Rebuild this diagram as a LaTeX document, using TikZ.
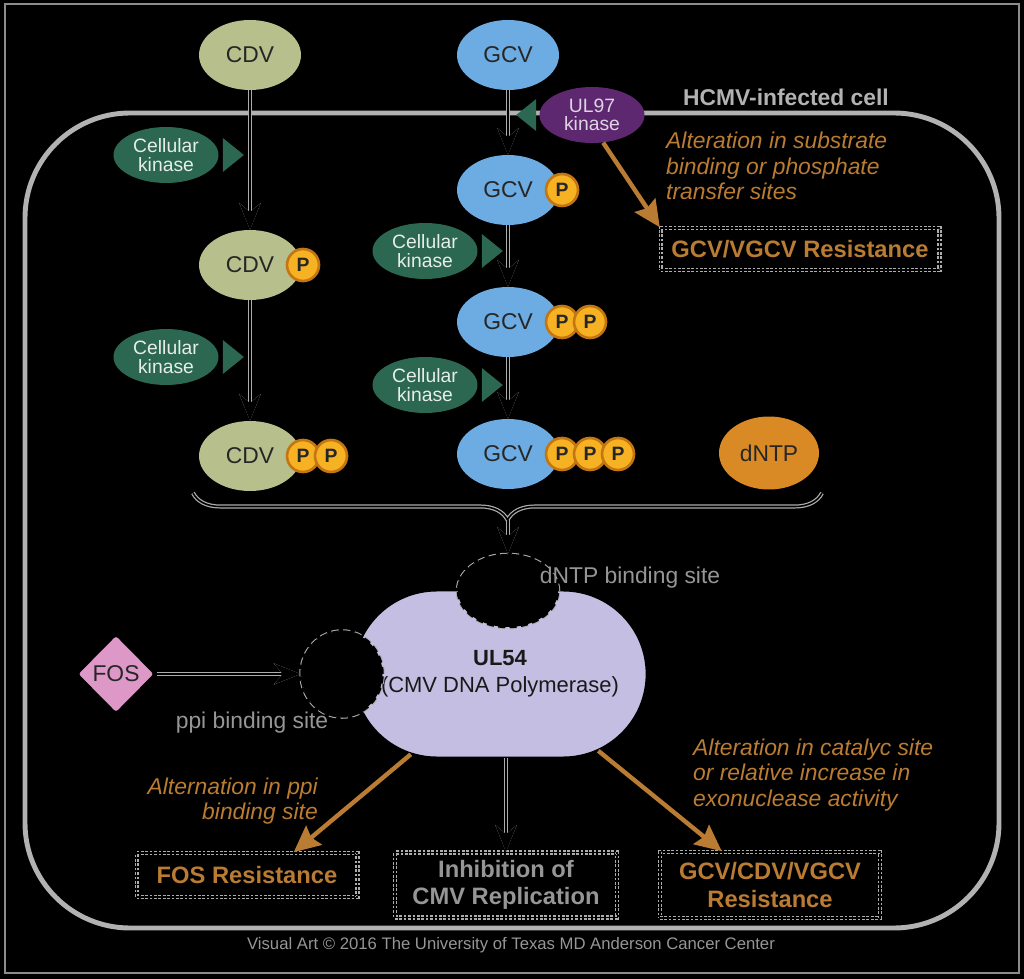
\documentclass[tikz,border=0pt]{standalone}
\usepackage{fontspec}
\setmainfont{Liberation Sans}
\usetikzlibrary{arrows.meta,shapes.geometric,shapes.misc,decorations.pathreplacing}

\definecolor{cdvgreen}{RGB}{183,191,140}
\definecolor{gcvblue}{RGB}{108,172,226}
\definecolor{kingreen}{RGB}{44,103,82}
\definecolor{ulpurple}{RGB}{94,40,112}
\definecolor{pfill}{RGB}{246,178,34}
\definecolor{pring}{RGB}{196,118,18}
\definecolor{ntporange}{RGB}{218,138,36}
\definecolor{fospink}{RGB}{222,152,200}
\definecolor{pollav}{RGB}{196,190,226}
\definecolor{mutorange}{RGB}{186,124,50}
\definecolor{cellgray}{RGB}{178,178,178}
\definecolor{notegray}{RGB}{150,150,150}

\tikzset{
  drug/.style={ellipse, minimum width=2.04cm, minimum height=1.4cm, inner sep=0pt,
    text=black!85, font=\fontsize{13}{15}\selectfont},
  cdv/.style={drug, fill=cdvgreen},
  gcv/.style={drug, fill=gcvblue},
  kinase/.style={ellipse, fill=kingreen, minimum width=2.1cm, minimum height=1.12cm,
    inner sep=0pt, align=center, text=white!88!kingreen, font=\fontsize{11}{10.5}\selectfont},
  phos/.style={circle, fill=pfill, draw=pring, line width=1.5pt, minimum size=0.64cm,
    inner sep=0pt, text=black!85, font=\bfseries\fontsize{11}{12}\selectfont},
  halo/.style={preaction={draw=black!32, line width=2.3pt}, draw=black, line width=0.9pt},
  flow/.style={halo, -{Stealth[length=15pt, width=12pt, inset=5pt]}},
  mutarrow/.style={draw=mutorange, line width=2.5pt, -{Stealth[length=15pt, width=14pt, inset=2pt]}},
  mut/.style={text=mutorange, align=left, font=\itshape\fontsize{13}{14.5}\selectfont},
  site/.style={ellipse, fill=black, preaction={draw=black!32, line width=2.6pt},
    draw=black, line width=1.4pt, dash pattern=on 4pt off 2.5pt, inner sep=0pt},
  resbox/.style={halo, dash pattern=on 1.5pt off 1pt, align=center, inner sep=0pt,
    font=\bfseries\fontsize{13.5}{15.5}\selectfont},
  note/.style={text=notegray, font=\fontsize{13}{15}\selectfont}
}

\begin{document}
\begin{tikzpicture}[x=0.02cm, y=-0.02cm]
  \fill[black] (0,0) rectangle (1024,979);
  \useasboundingbox (0,0) rectangle (1024,979);
  \draw[black!45, line width=0.6pt] (5,4) rectangle (1019,973);

  % infected cell
  \draw[cellgray, line width=2.8pt, rounded corners=2.1cm] (25,113) rectangle (999,928);
  \node[text=cellgray, font=\bfseries\fontsize{13}{15}\selectfont] (celllabel) at (786,97) {HCMV-infected cell};

  % CDV branch
  \node[cdv] (cdv0) at (250,55) {CDV};
  \node[cdv] (cdv1) at (250,265) {CDV};
  \node[cdv] (cdv2) at (250,456) {CDV};
  \node[phos] (cdvp1) at (303,265) {P};
  \node[phos] (cdvpp1) at (303,456) {P};
  \node[phos] (cdvpp2) at (331,456) {P};

  % GCV branch
  \node[gcv] (gcv0) at (508,55) {GCV};
  \node[gcv] (gcv1) at (508,190) {GCV};
  \node[gcv] (gcv2) at (508,322) {GCV};
  \node[gcv] (gcv3) at (508,454) {GCV};
  \node[phos] (gcvp1) at (562,190) {P};
  \node[phos] (gcvpp1) at (562,322) {P};
  \node[phos] (gcvpp2) at (590,322) {P};
  \node[phos] (gcvppp1) at (562,454) {P};
  \node[phos] (gcvppp2) at (590,454) {P};
  \node[phos] (gcvppp3) at (618,454) {P};

  \node[drug, fill=ntporange, minimum width=2cm, minimum height=1.46cm] (dntp) at (769,453) {dNTP};

  % kinases
  \node[kinase] (kin1) at (166,155) {Cellular\\kinase};
  \node[kinase] (kin2) at (166,357) {Cellular\\kinase};
  \node[kinase] (kin3) at (425,251) {Cellular\\kinase};
  \node[kinase] (kin4) at (425,385) {Cellular\\kinase};
  \foreach \k in {kin1,kin2,kin3,kin4}
    \fill[kingreen, shift={(\k.east)}] (4,-17) -- (25,0) -- (4,17) -- cycle;
  \node[kinase, fill=ulpurple, text=white!80!ulpurple] (ul97) at (592,115) {UL97\\kinase};
  \fill[kingreen, shift={(ul97.west)}] (-3,-16) -- (-23,0) -- (-3,16) -- cycle;

  \draw[flow] (cdv0) -- (cdv1);
  \draw[flow] (cdv1) -- (cdv2);
  \draw[flow] (gcv0) -- (gcv1);
  \draw[flow] (gcv1) -- (gcv2);
  \draw[flow] (gcv2) -- (gcv3);

  % polymerase
  \draw[halo, decorate, decoration={brace, mirror, amplitude=0.54cm}] (193,493) -- (822,493);
  \coordinate (bracetip) at (508,520);
  \node[rounded rectangle, fill=pollav, draw=black, line width=1.1pt, minimum width=6.1cm,
    minimum height=3.34cm, align=center, text=black!90,
    font=\fontsize{12.5}{15.3}\selectfont] (ul54) at (500,674) {\textbf{UL54}\\(CMV DNA Polymerase)};
  \node[site, minimum width=2cm, minimum height=1.44cm] (dsite) at (508,591) {};
  \node[site, minimum width=1.62cm, minimum height=1.7cm] (psite) at (342,674) {};
  \node[note] (dlabel) at (630,578) {dNTP binding site};
  \node[note] (plabel) at (252,723) {ppi binding site};

  \node[diamond, fill=fospink, draw=black, line width=1.2pt, rounded corners=2pt,
    minimum width=1.58cm, minimum height=1.6cm, inner sep=0pt, text=black!85,
    font=\fontsize{13}{15}\selectfont] (fos) at (116,674) {FOS};

  \draw[flow] (bracetip) -- (dsite);
  \draw[flow] (fos) -- (psite);

  % outcomes
  \node[resbox, text=mutorange, minimum width=5.58cm, minimum height=0.84cm] (gcvres) at (800,249) {GCV/VGCV Resistance};
  \node[resbox, text=mutorange, minimum width=4.42cm, minimum height=0.88cm] (fosres) at (247,875) {FOS Resistance};
  \node[resbox, text=notegray, minimum width=4.44cm, minimum height=1.3cm] (inhib) at (506,885) {Inhibition of\\CMV Replication};
  \node[resbox, text=mutorange, minimum width=4.4cm, minimum height=1.32cm] (tripleres) at (770,885) {GCV/CDV/VGCV\\Resistance};

  \draw[mutarrow] (ul97.-68) -- (gcvres.north west);
  \draw[mutarrow] (ul54.222) -- (fosres.26);
  \draw[mutarrow] (ul54.-38) -- (tripleres.145);
  \draw[flow] (ul54.south -| inhib.north) -- (inhib);

  \node[mut, anchor=west] (mut97) at (660,166) {Alteration in substrate\\binding or phosphate\\transfer sites};
  \node[mut, anchor=east, align=right] (mutppi) at (324,801) {Alternation in ppi\\binding site};
  \node[mut, anchor=west] (mutcat) at (687,775) {Alteration in catalyc site\\or relative increase in\\exonuclease activity};

  \node[text=notegray, font=\fontsize{9.5}{11}\selectfont] (credit) at (511,945) {Visual Art © 2016 The University of Texas MD Anderson Cancer Center};
\end{tikzpicture}
\end{document}
